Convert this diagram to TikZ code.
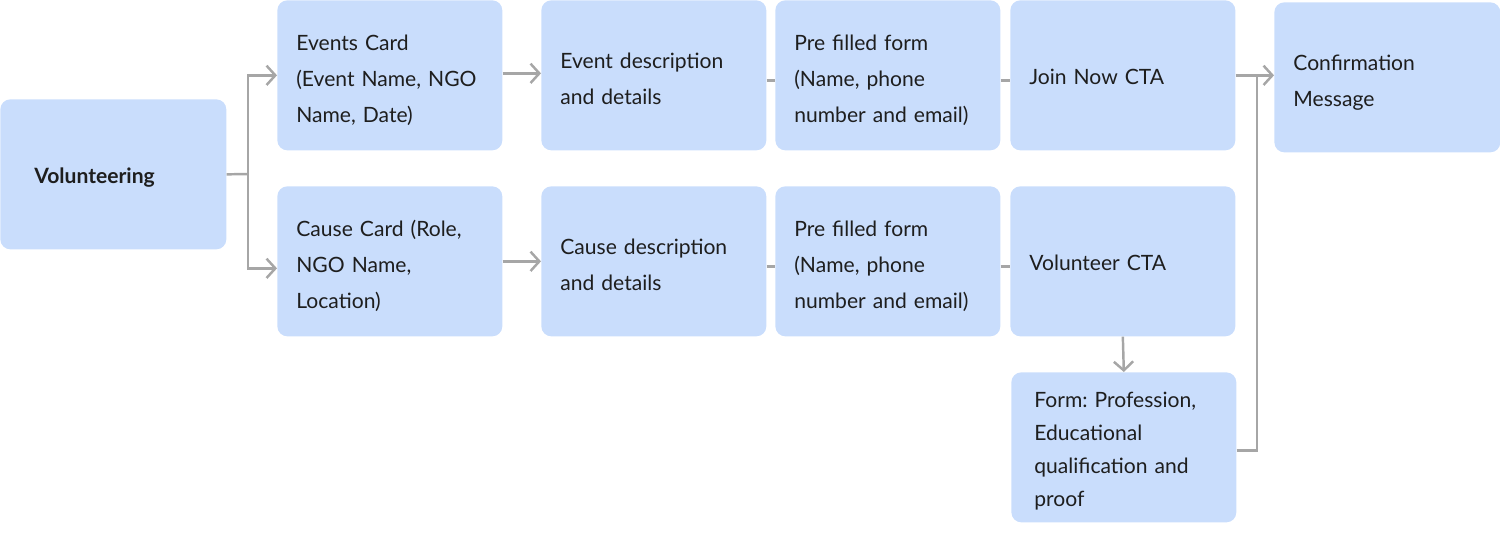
\documentclass[tikz,border=0pt]{standalone}
\usepackage{fontspec}
\setmainfont{Lato}
\usetikzlibrary{arrows.meta,calc,positioning}
\definecolor{cardfill}{HTML}{C9DDFC}
\definecolor{linkgray}{HTML}{A6A6A6}
\definecolor{ink}{HTML}{1E1E1E}
\newcommand\cardstrut{\rule[-0.2\baselineskip]{0pt}{\baselineskip}}
\tikzset{>={Straight Barb[length=5pt,width=11pt]},
  every node/.style={font=\fontsize{12}{20.5}\selectfont\frenchspacing,text=ink},
  card/.style={rectangle,fill=cardfill,rounded corners=0.2cm,anchor=north west,
    minimum width=4.5cm,minimum height=3cm,text width=3.74cm,
    inner xsep=0.38cm,inner ysep=0pt,align=left,
    execute at begin node=\cardstrut,execute at end node=\cardstrut},
  oneline/.style={execute at begin node=\strut,execute at end node=\strut},
  link/.style={draw=linkgray,line width=1.4pt},
  flow/.style={link,->}}

\begin{document}
\begin{tikzpicture}[x=0.02cm,y=-0.02cm]
\useasboundingbox (0,0) rectangle (1500,532);
% cards
\node[card,oneline,inner xsep=0.68cm,text width=3.16cm,minimum width=4.52cm] (vol) at (0,99) {\textbf{Volunteering}};
\node[card] (events) at (277,0) {Events Card\\(Event Name, NGO\\Name, Date)};
\node[card] (causecard) at (277,186) {Cause Card (Role,\\NGO Name,\\Location)};
\node[card] (eventdesc) at (541,0) {Event description\\and details};
\node[card] (causedesc) at (541,186) {Cause description\\and details};
\node[card] (formtop) at (775,0) {Pre filled form\\(Name, phone\\number and email)};
\node[card] (formbot) at (775,186) {Pre filled form\\(Name, phone\\number and email)};
\node[card,oneline] (join) at (1010,0) {Join Now CTA};
\node[card,oneline] (volcta) at (1010,186) {Volunteer CTA};
\node[card,inner xsep=0.46cm,text width=3.58cm,font=\fontsize{12}{18.8}\selectfont\frenchspacing] (profform) at (1011,372) {Form: Profession,\\Educational\\qualification and\\proof};
\node[card,minimum width=4.52cm,text width=3.76cm] (confirm) at (1274,2) {Confirmation\\Message};
% connectors
\coordinate (split) at (248,174);
\coordinate (merge) at (1257,75);
\draw[link] (vol.east) -- (split);
\draw[flow] (split) |- (events.west);
\draw[flow] (split) |- ([yshift=-0.14cm]causecard.west);
\draw[flow] ([yshift=0.04cm]events.east) -- ([yshift=0.04cm]eventdesc.west);
\draw[flow] (causecard.east) -- (causedesc.west);
\draw[link] ([yshift=-0.1cm]eventdesc.east) -- ([yshift=-0.1cm]formtop.west);
\draw[link] ([yshift=-0.1cm]formtop.east) -- ([yshift=-0.1cm]join.west);
\draw[link] ([yshift=-0.1cm]causedesc.east) -- ([yshift=-0.1cm]formbot.west);
\draw[link] ([yshift=-0.1cm]formbot.east) -- ([yshift=-0.1cm]volcta.west);
\draw[flow] (join.east) -- (join.east -| confirm.west);
\draw[flow] (volcta.south) -- (profform.north);
\draw[link] ([yshift=-0.06cm]profform.east) -| (merge);
\end{tikzpicture}
\end{document}
